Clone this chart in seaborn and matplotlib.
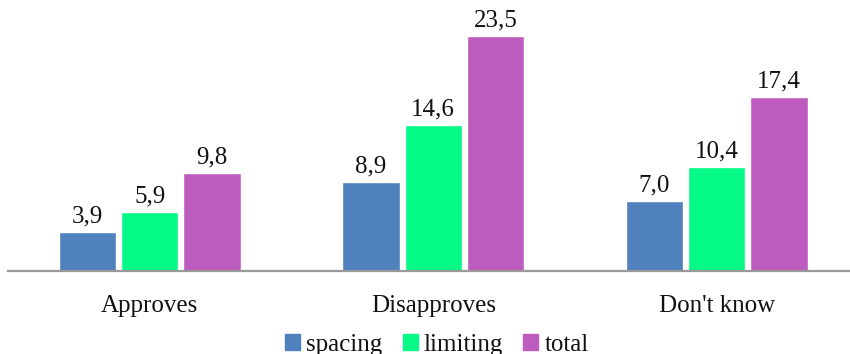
import matplotlib
matplotlib.use("Agg")
import matplotlib.pyplot as plt
import seaborn as sns
import pandas as pd

categories = ["Approves", "Disapproves", "Don't know"]
series = ["spacing", "limiting", "total"]
spacing = [3.9, 8.9, 7.0]
limiting = [5.9, 14.6, 10.4]
total = [9.8, 23.5, 17.4]
colors = ["#4F81BD", "#05F986", "#BE5BBE"]

df = pd.DataFrame({
    "category": categories * 3,
    "series": [s for s in series for _ in categories],
    "value": spacing + limiting + total,
})

sns.set_theme(style="white")
plt.rcParams["font.family"] = ["Liberation Serif", "DejaVu Serif"]

fig = plt.figure(figsize=(8.5, 3.54), dpi=100)
ax = fig.add_axes([8 / 850, 1 - 271 / 354, 850.5 / 850, 271 / 354])

sns.barplot(data=df, x="category", y="value", hue="series", order=categories,
            hue_order=series, palette=colors, width=0.66, gap=0.08,
            saturation=1, errorbar=None, legend=False, ax=ax)

for cont in ax.containers:
    labels = [f"{v:.1f}".replace(".", ",") for v in cont.datavalues]
    ax.bar_label(cont, labels=labels, padding=3, fontsize=18, color="#111111")

ax.set_ylim(0, 27.1)
ax.set_xlim(-0.5, 2.5)
ax.set_xlabel("")
ax.set_ylabel("")
ax.set_yticks([])
ax.tick_params(axis="x", length=0, pad=17, labelsize=18, labelcolor="#111111")
for side in ["top", "right", "left"]:
    ax.spines[side].set_visible(False)
ax.spines["bottom"].set_color("#999999")
ax.spines["bottom"].set_linewidth(1.6)

handles = [plt.Rectangle((0, 0), 1, 1, color=c) for c in colors]
fig.legend(handles, series, loc="lower center", bbox_to_anchor=(0.514, -0.068),
           ncol=3, frameon=False, fontsize=18, handlelength=0.6, handleheight=0.6,
           handletextpad=0.25, columnspacing=0.8, labelcolor="#111111")

fig.savefig("out.png", dpi=100)
